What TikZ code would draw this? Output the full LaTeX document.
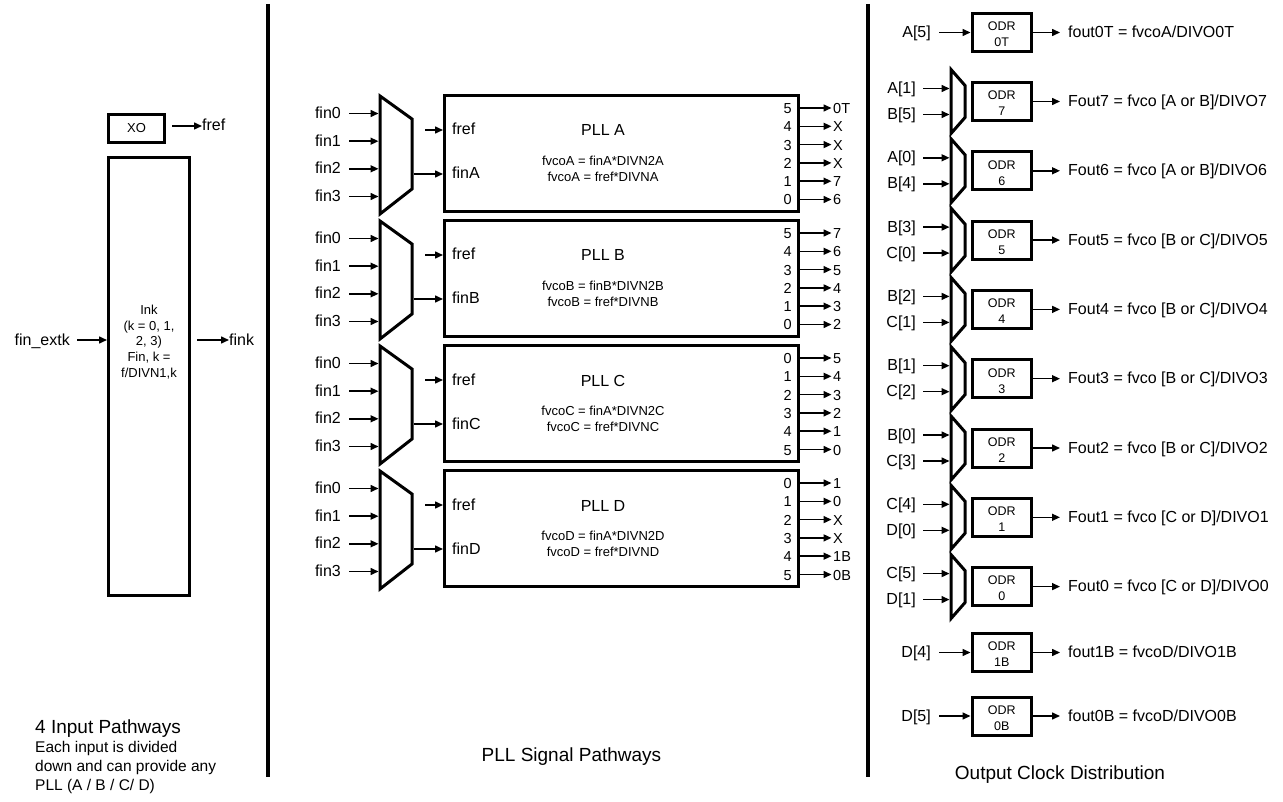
\documentclass[tikz,border=0pt]{standalone}
\usepackage{fontspec}
\setmainfont{Liberation Sans}
\usetikzlibrary{arrows.meta}
\begin{document}
\begin{tikzpicture}[x=1pt,y=-1pt,
  arr/.style={line width=1.5pt,-{Triangle[length=8pt,width=7pt]}},
  blk/.style={draw,line width=3pt,inner sep=0pt},
  lbl/.style={font=\fontsize{16}{18}\selectfont,inner sep=0pt,text height=12pt,text depth=2pt},
  pin/.style={font=\fontsize{14.5}{16}\selectfont,inner sep=0pt,text height=11pt,text depth=0pt},
  small/.style={font=\fontsize{13}{15.6}\selectfont,inner sep=0pt,align=center},
  odrtxt/.style={font=\fontsize{12.5}{16}\selectfont,inner sep=0pt,align=center},
  title/.style={font=\fontsize{19}{22}\selectfont,inner sep=0pt},
  muxline/.style={line width=3pt,line join=miter},
  divider/.style={line width=4.5pt}]
\useasboundingbox (0,0) rectangle (1283,802);

% dividers
\draw[divider] (268,4) -- (268,777);
\draw[divider] (868,4) -- (868,777);

% ---------------- left panel ----------------
\node[blk,minimum width=56pt,minimum height=28pt,font=\fontsize{13}{15}\selectfont] (xo) at (136.5,128.5) {XO};
\node[lbl,anchor=west] (fref) at (202,126) {fref};
\draw[arr,shorten <=6pt] (fref -| xo.east) -- (fref.west);

\node[blk,minimum width=81pt,minimum height=438pt] (ink) at (149,376.5) {};
\node[small] (inktxt) at (149,342) {Ink\\(k = 0, 1,\\2, 3)\\Fin, k =\\f/DIVN1,k};
\node[lbl,anchor=east] (finx) at (70,340) {fin\_extk};
\draw[arr,shorten <=7pt] (finx.east) -- (finx -| ink.west);
\node[lbl,anchor=west] (fink) at (229,340) {fink};
\draw[arr,shorten <=6pt] (fink -| ink.east) -- (fink.west);

\node[anchor=base west,inner sep=0pt,align=left,font=\fontsize{15.5}{19}\selectfont] (lefttxt) at (35,790)
  {{\fontsize{19}{19}\selectfont 4 Input Pathways}\\Each input is divided\\down and can provide any\\PLL (A / B / C/ D)};

% ---------------- middle panel ----------------
\foreach \L/\T/\one/\two/\pa/\pb/\pc/\pd/\pe/\pf/\oa/\ob/\oc/\od/\oe/\of in {
  A/94/{fvcoA = finA*DIVN2A}/{fvcoA = fref*DIVNA}/5/4/3/2/1/0/0T/X/X/X/7/6,
  B/219/{fvcoB = finB*DIVN2B}/{fvcoB = fref*DIVNB}/5/4/3/2/1/0/7/6/5/4/3/2,
  C/344/{fvcoC = finA*DIVN2C}/{fvcoC = fref*DIVNC}/0/1/2/3/4/5/5/4/3/2/1/0,
  D/469/{fvcoD = finA*DIVN2D}/{fvcoD = fref*DIVND}/0/1/2/3/4/5/1/0/X/X/1B/0B} {
  \node[blk,minimum width=354pt,minimum height=116pt] (pll\L) at (621.5,\T+59.5) {};
  % mux
  \draw[muxline] (380,\T+2) -- (412,\T+25) -- (412,\T+95) -- (380,\T+120) -- cycle;
  \foreach \k/\yy in {0/19.5,1/47.2,2/74.8,3/102.5} {
    \node[lbl,anchor=east] (fin\L\k) at (341,\T+\yy) {fin\k};
    \coordinate (mi\L\k) at (378.5,\T+\yy);
    \draw[arr,shorten <=8pt] (fin\L\k.east) -- (mi\L\k);
  }
  \coordinate (mo\L) at (413.5,\T+80);
  \coordinate (fs\L) at (425,\T+36);
  \draw[arr] (fs\L) -- (fs\L -| pll\L.west);
  \draw[arr] (mo\L) -- (mo\L -| pll\L.west);
  \node[lbl,anchor=west] (frefin\L) at (452,\T+36) {fref};
  \node[lbl,anchor=west] (finin\L) at (452,\T+80) {fin\L};
  \node[lbl] (name\L) at (603,\T+37) {PLL \L};
  \node[small] (eq\L) at (603,\T+75) {\one\\\two};
  \foreach \k/\p/\o in {0/\pa/\oa,1/\pb/\ob,2/\pc/\oc,3/\pd/\od,4/\pe/\oe,5/\pf/\of} {
    \node[pin,anchor=east] (pn\L\k) at (792,\T+14+18.3*\k) {\p};
    \node[pin,anchor=west] (po\L\k) at (833,\T+14+18.3*\k) {\o};
    \draw[arr,shorten >=1.5pt] (pn\L\k -| pll\L.east) -- (po\L\k.west);
  }
}
\node[title] (midtitle) at (571.5,757) {PLL Signal Pathways};

% ---------------- right panel ----------------
% single-input rows
\foreach \n/\c/\inp/\outp in {0T/32.5/{A[5]}/{fout0T = fvcoA/DIVO0T},
                              1B/652.5/{D[4]}/{fout1B = fvcoD/DIVO1B},
                              0B/716/{D[5]}/{fout0B = fvcoD/DIVO0B}} {
  \node[blk,minimum width=59.5pt,minimum height=38pt] (odr\n) at (1001.75,\c) {};
  \node[odrtxt] (odrt\n) at (1001.75,\c+2) {ODR\\\n};
  \node[lbl,anchor=east] (in\n) at (931,\c) {\inp};
  \draw[arr,shorten <=8pt] (in\n.east) -- (in\n -| odr\n.west);
  \node[lbl,anchor=west] (out\n) at (1068,\c) {\outp};
  \draw[arr,shorten >=8pt] (out\n -| odr\n.east) -- (out\n.west);
}
% muxed rows
\foreach \n/\k/\ia/\ib/\src in {7/0/{A[1]}/{B[5]}/{A or B},6/1/{A[0]}/{B[4]}/{A or B},
                                5/2/{B[3]}/{C[0]}/{B or C},4/3/{B[2]}/{C[1]}/{B or C},
                                3/4/{B[1]}/{C[2]}/{B or C},2/5/{B[0]}/{C[3]}/{B or C},
                                1/6/{C[4]}/{D[0]}/{C or D},0/7/{C[5]}/{D[1]}/{C or D}} {
  \pgfmathsetmacro{\c}{101.5+69.3*\k}
  \node[blk,minimum width=59.5pt,minimum height=38pt] (odr\n) at (1001.75,\c) {};
  \node[odrtxt] (odrt\n) at (1001.75,\c+2) {ODR\\\n};
  \draw[muxline] (951,\c-32) -- (965,\c-16) -- (965,\c+16) -- (951,\c+32) -- cycle;
  \node[lbl,anchor=east] (ina\n) at (916,\c-13) {\ia};
  \node[lbl,anchor=east] (inb\n) at (916,\c+13) {\ib};
  \coordinate (ma\n) at (949.5,\c-13);
  \coordinate (mb\n) at (949.5,\c+13);
  \draw[arr,shorten <=7pt] (ina\n.east) -- (ma\n);
  \draw[arr,shorten <=7pt] (inb\n.east) -- (mb\n);
  \node[lbl,anchor=west] (out\n) at (1068,\c) {Fout\n{} = fvco [\src]/DIVO\n};
  \draw[arr,shorten >=8pt] (out\n -| odr\n.east) -- (out\n.west);
}
\node[title] (righttitle) at (1060,775) {Output Clock Distribution};
\end{tikzpicture}
\end{document}
